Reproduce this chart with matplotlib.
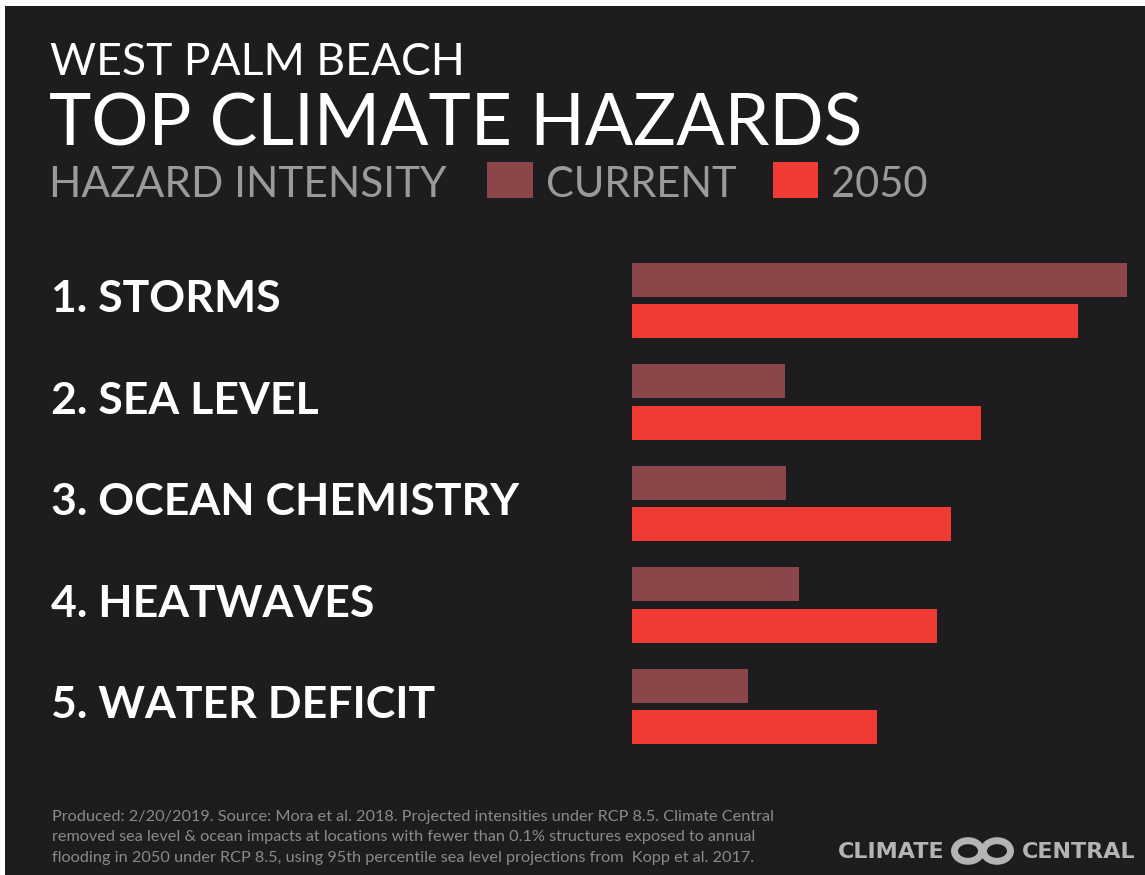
import numpy as np
import matplotlib
matplotlib.use('Agg')
import matplotlib.pyplot as plt
from matplotlib import transforms
from matplotlib.patches import Rectangle, Circle

# data (arbitrary intensity units)
hazards = ['1. STORMS', '2. SEA LEVEL', '3. OCEAN CHEMISTRY', '4. HEATWAVES', '5. WATER DEFICIT']
current = [99.0, 30.6, 30.8, 33.4, 23.2]
future = [89.2, 69.8, 63.8, 61.0, 49.0]

bg = '#1f1c20'
c_current = '#8c4649'
c_future = '#ef3a35'
grey = '#9a9a9a'

W, H = 1145, 875
fig = plt.figure(figsize=(W / 100, H / 100), dpi=100)
fig.patch.set_facecolor('white')
fig.patches.append(Rectangle((5 / W, 0), 1 - 5 / W, 1 - 6 / H, transform=fig.transFigure,
                             facecolor=bg, edgecolor='none', zorder=-10))

def fx(px):
    return px / W

def fy(py):
    return 1 - py / H

# bars
ax = fig.add_axes([fx(632), fy(757.25), fx(500), 507.5 / H])
ax.set_zorder(5)
ax.set_facecolor('none')
y = np.arange(len(hazards))
ax.barh(y - 0.202, current, height=0.335, color=c_current, left=0)
ax.barh(y + 0.202, future, height=0.335, color=c_future, left=0)
ax.set_xlim(0, 100)
ax.set_ylim(4.5, -0.5)
ax.axis('off')

trans = transforms.blended_transform_factory(fig.transFigure, ax.transData)
for i, name in enumerate(hazards):
    ax.text(fx(51), i - 0.01, name, transform=trans, color='white', fontsize=32,
            fontweight='bold', family='Lato', va='center', ha='left')

# header
fig.text(fx(50), fy(75), 'WEST PALM BEACH', color='white', fontsize=32, family='Lato',
         va='baseline', ha='left')
fig.text(fx(49), fy(145), 'TOP CLIMATE HAZARDS', color='white', fontsize=51.5, family='Lato',
         va='baseline', ha='left')
fig.text(fx(49), fy(197), 'HAZARD INTENSITY', color=grey, fontsize=30.5, family='Lato',
         va='baseline', ha='left')
fig.patches.append(Rectangle((fx(487), fy(198)), fx(46), 36 / H, transform=fig.transFigure,
                             facecolor=c_current, edgecolor='none'))
fig.text(fx(546), fy(197), 'CURRENT', color=grey, fontsize=30, family='Lato',
         va='baseline', ha='left')
fig.patches.append(Rectangle((fx(773), fy(198)), fx(45), 36 / H, transform=fig.transFigure,
                             facecolor=c_future, edgecolor='none'))
fig.text(fx(831), fy(197), '2050', color=grey, fontsize=30, family='Lato',
         va='baseline', ha='left')

# footnote
notes = ['Produced: 2/20/2019. Source: Mora et al. 2018. Projected intensities under RCP 8.5. Climate Central',
         'removed sea level & ocean impacts at locations with fewer than 0.1% structures exposed to annual',
         'flooding in 2050 under RCP 8.5, using 95th percentile sea level projections from  Kopp et al. 2017.']
for k, line in enumerate(notes):
    fig.text(fx(52), fy(821 + 20.5 * k), line, color='#8a8a8a', fontsize=11.7, family='Lato',
             va='baseline', ha='left')

# logo
logo_grey = '#b4b4b4'
fig.text(fx(838), fy(852), 'CLIMATE', color=logo_grey, fontsize=16, fontweight='bold',
         family='DejaVu Sans', va='center', ha='left')
fig.text(fx(1022), fy(852), 'CENTRAL', color=logo_grey, fontsize=16, fontweight='bold',
         family='DejaVu Sans', va='center', ha='left')
for cx in [968, 997]:
    fig.patches.append(Circle((fx(cx), fy(851)), 13.5 / W, transform=fig.transFigure,
                              facecolor='none', edgecolor=logo_grey, linewidth=5))

fig.savefig('out.png', dpi=100, facecolor=fig.get_facecolor())
